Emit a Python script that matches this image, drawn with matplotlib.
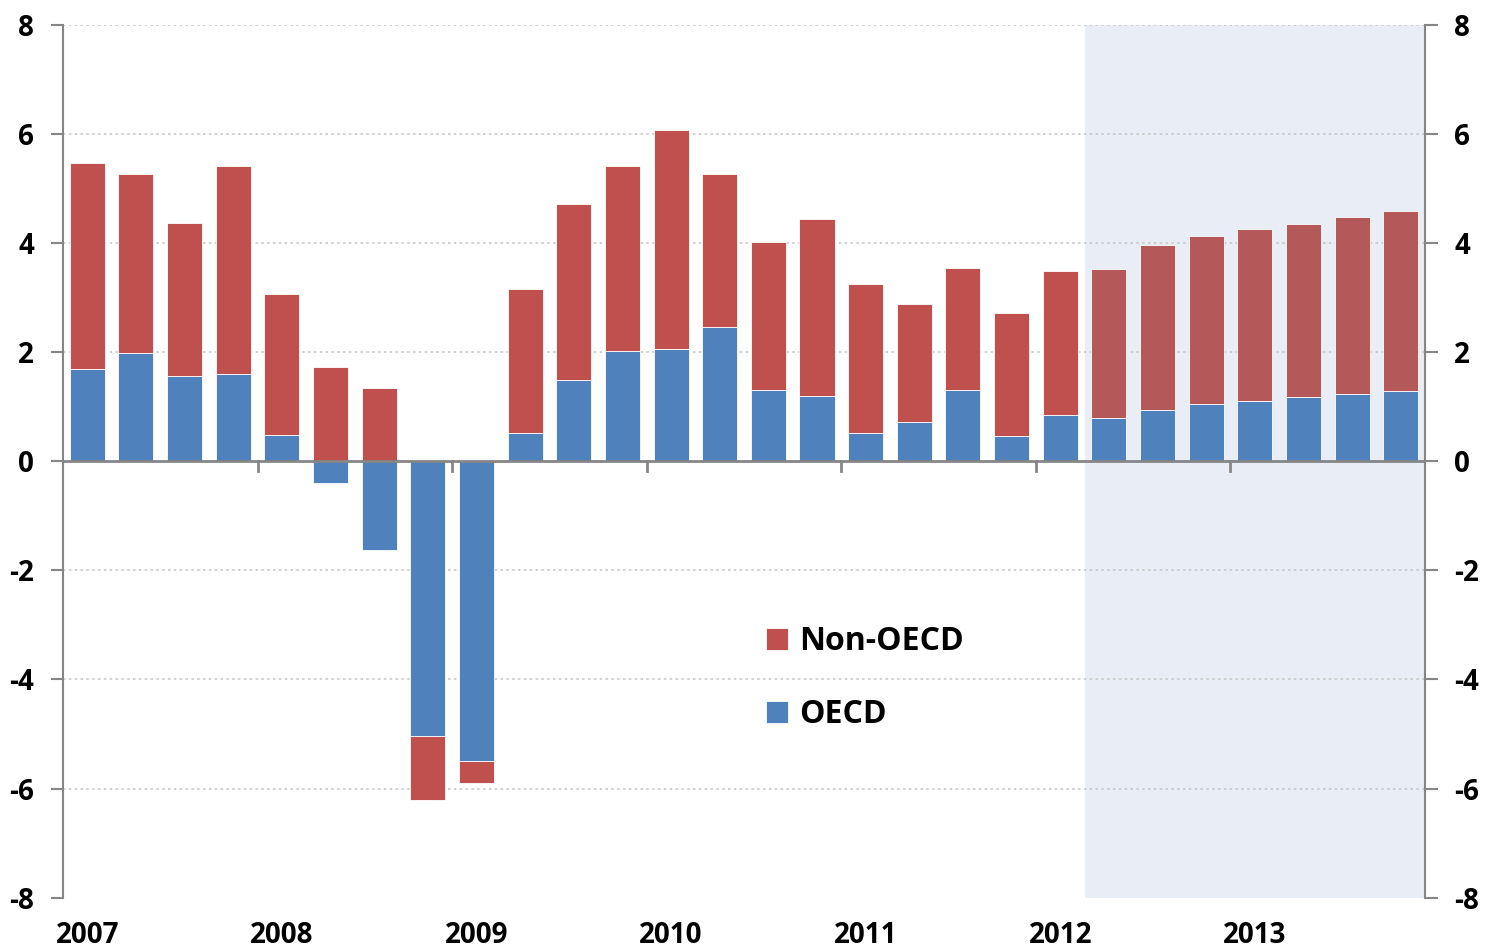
import matplotlib.pyplot as plt
import numpy as np

plt.rcParams['font.family'] = ['Open Sans', 'DejaVu Sans']
plt.rcParams['axes.unicode_minus'] = False

quarters = [f"{y}Q{q}" for y in range(2007, 2014) for q in range(1, 5)]
years = ['2007', '2008', '2009', '2010', '2011', '2012', '2013']

oecd = [1.69, 1.98, 1.56, 1.60, 0.48, -0.39, -1.62, -5.03, -5.49, 0.52, 1.49, 2.02,
        2.05, 2.46, 1.30, 1.19, 0.51, 0.72, 1.30, 0.46, 0.84, 0.79, 0.94, 1.05,
        1.10, 1.17, 1.23, 1.28]
non_oecd = [3.77, 3.29, 2.81, 3.82, 2.59, 1.73, 1.35, -1.17, -0.40, 2.63, 3.22, 3.39,
            4.03, 2.81, 2.72, 3.25, 2.73, 2.16, 2.25, 2.25, 2.65, 2.74, 3.03, 3.08,
            3.15, 3.17, 3.25, 3.30]
forecast_start = 21  # 2012Q2 onwards shaded

blue = '#4F81BD'
red = '#C0504D'
red_fc = '#B45859'
grey = '#868686'

x = np.arange(len(quarters))
bottoms = [o if (o >= 0) == (n >= 0) else 0 for o, n in zip(oecd, non_oecd)]
reds = [red if i < forecast_start else red_fc for i in range(len(x))]

fig, ax = plt.subplots(figsize=(14.86, 9.52), dpi=100)
fig.subplots_adjust(left=0.0424, right=0.959, top=0.974, bottom=0.057)

ax.axvspan(forecast_start - 0.5, len(x) - 0.5, color='#E9EDF6', zorder=0, lw=0)
ax.bar(x, oecd, width=0.72, color=blue, edgecolor='white', linewidth=0.6, zorder=3, label='OECD')
ax.bar(x, non_oecd, width=0.72, bottom=bottoms, color=reds, edgecolor='white', linewidth=0.6,
       zorder=3, label='Non-OECD')

ax.set_xlim(-0.5, len(x) - 0.5)
ax.set_ylim(-8, 8)
ax.set_yticks(np.arange(-8, 9, 2))
for yv in np.arange(-6, 9, 2):
    if yv != 0:
        ax.axhline(yv, color='#C8C8C8', lw=1.2, ls=(0, (1.5, 2)), zorder=1)
ax.axhline(0, color=grey, lw=2, zorder=4)

ax.spines['top'].set_visible(False)
ax.spines['bottom'].set_visible(False)
for s in ['left', 'right']:
    ax.spines[s].set_color(grey)
    ax.spines[s].set_linewidth(1.5)

ax.tick_params(axis='y', labelsize=20, length=9, width=1.5, color=grey, pad=12,
               left=True, right=True, labelleft=True, labelright=True)
for lab in ax.get_yticklabels():
    lab.set_fontweight('bold')

# year labels under Q1, tick marks at year boundaries on the zero line
ax.set_xticks([])
for i, yr in enumerate(years):
    ax.text(i * 4, -8.42, yr, ha='center', va='top', fontsize=20, fontweight='bold')
for b in np.arange(3.5, len(x) - 1, 4):
    ax.plot([b, b], [0, -0.18], color=grey, lw=2, zorder=4, clip_on=False)

h, l = ax.get_legend_handles_labels()
ax.legend(h[::-1], l[::-1], loc='upper left', bbox_to_anchor=(0.495, 0.345), frameon=False,
          handlelength=0.7, handleheight=0.7, handletextpad=0.35,
          labelspacing=1.25, prop={'weight': 'bold', 'size': 23})

fig.savefig('out.png', dpi=100)
